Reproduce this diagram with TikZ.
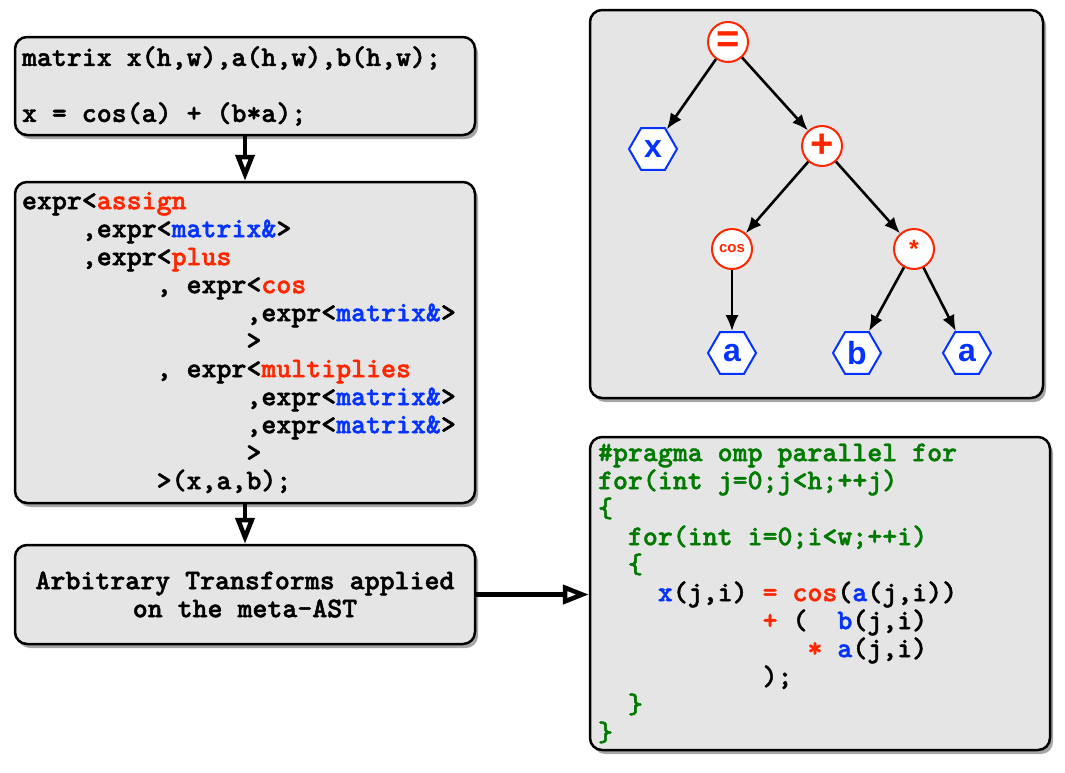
\documentclass[tikz,border=0pt]{standalone}
\usepackage{fontspec}
\usetikzlibrary{arrows.meta,shapes.geometric,shadows}
\newfontfamily\treefont{Liberation Sans}
\newfontfamily\codefont{lmmonolt10-bold.otf}[RawFeature={embolden=1.6}]
\definecolor{boxgray}{RGB}{229,229,229}
\definecolor{kwred}{RGB}{255,38,0}
\definecolor{kwblue}{RGB}{4,51,255}
\definecolor{kwgreen}{RGB}{0,122,0}
\newcommand{\ind}[1]{\hspace*{#1\fontcharwd\font`M}}
\newcommand{\spc}{\ind{1}}
\newcommand{\redtxt}[1]{\textcolor{kwred}{#1}}
\newcommand{\bluetxt}[1]{\textcolor{kwblue}{#1}}
\newcommand{\blacktxt}[1]{\textcolor{black}{#1}}

\begin{document}
\begin{tikzpicture}[x=1pt, y=-1pt,
		panel/.style={draw=black, line width=2.5pt, fill=boxgray, rounded corners=12pt,
			drop shadow={shadow xshift=3pt, shadow yshift=-4pt, fill=black, opacity=0.35},
			inner xsep=7pt, inner ysep=0pt, text width=446pt, align=left,
			font=\codefont\fontsize{28.5}{28}\selectfont},
		opnode/.style={circle, draw=kwred, line width=2pt, fill=white, text=kwred,
			minimum size=40pt, inner sep=0pt},
		leaf/.style={regular polygon, regular polygon sides=6, draw=kwblue, line width=2pt,
			fill=white, text=kwblue, minimum size=48pt, inner sep=0pt,
			font=\treefont\bfseries\fontsize{32}{32}\selectfont},
		tarrow/.style={line width=2.6pt, -{Latex[length=16pt, width=13pt]}},
		flow/.style={line width=4.5pt, -{Triangle[open, length=26pt, width=19pt]}}]

		% === page bounds ===
		\useasboundingbox (0,0) rectangle (1065,772);

		% === Left column ===
		\node[panel, minimum height=98pt] (src) at (245,86)
			{matrix\spc x(h,w),a(h,w),b(h,w);\\[28pt]
			x\spc=\spc cos(a)\spc+\spc(b*a);};
		\node[panel, minimum height=321pt] (tpl) at (245,342.5)
			{expr<\redtxt{assign}\\
			\ind{4},expr<\bluetxt{matrix\&}>\\
			\ind{4},expr<\redtxt{plus}\\
			\ind{9},\spc expr<\redtxt{cos}\\
			\ind{15},expr<\bluetxt{matrix\&}>\\
			\ind{15}>\\
			\ind{9},\spc expr<\redtxt{multiplies}\\
			\ind{15},expr<\bluetxt{matrix\&}>\\
			\ind{15},expr<\bluetxt{matrix\&}>\\
			\ind{15}>\\
			\ind{9}>(x,a,b);};
		\node[panel, align=center, minimum height=99pt] (xfm) at (245,594.5)
			{Arbitrary\spc Transforms\spc applied\\on\spc the\spc meta-AST};

		% === Right column ===
		\node[panel, text width=439pt, minimum height=388pt] (astbox) at (816.5,204) {};
		\node[panel, text=kwgreen, minimum height=313pt, inner xsep=8pt, text width=444pt] (code) at (820,593.5)
			{\#pragma\spc omp\spc parallel\spc for\\
			for(int\spc j=0;j<h;++j)\\
			\{\\
			\ind{2}for(int\spc i=0;i<w;++i)\\
			\ind{2}\{\\
			\ind{4}\bluetxt{x}\blacktxt{(j,i)}\spc\redtxt{=\spc cos}\blacktxt{(}\bluetxt{a}\blacktxt{(j,i))}\\
			\ind{11}\redtxt{+}\spc\blacktxt{(}\ind{2}\bluetxt{b}\blacktxt{(j,i)}\\
			\ind{14}\redtxt{*}\spc\bluetxt{a}\blacktxt{(j,i)}\\
			\ind{11}\blacktxt{);}\\
			\ind{2}\}\\
			\}};

		% === Expression tree ===
		\node[opnode, font=\treefont\bfseries\fontsize{40}{40}\selectfont] (eq) at (728,42) {=};
		\node[opnode, font=\treefont\bfseries\fontsize{40}{40}\selectfont] (plus) at (822,146) {+};
		\node[opnode, font=\treefont\bfseries\fontsize{15}{15}\selectfont] (cosn) at (732,249) {cos};
		\node[opnode, font=\treefont\bfseries\fontsize{25}{25}\selectfont] (mul) at (914,249) {*};
		\node[leaf] (xv) at (653,149) {x};
		\node[leaf] (a1) at (732,353) {a};
		\node[leaf] (bv) at (857,353) {b};
		\node[leaf] (a2) at (967,353) {a};
		\foreach \p/\c in {eq/xv, eq/plus, plus/cosn, plus/mul, cosn/a1, mul/bv, mul/a2}
			\draw[tarrow] (\p) -- (\c);

		% === Flow ===
		\draw[flow] (src.south) -- (tpl.north);
		\draw[flow] (tpl.south) -- (xfm.north);
		\draw[flow] (xfm.east) -- (xfm.east -| code.west);
	\end{tikzpicture}
\end{document}
